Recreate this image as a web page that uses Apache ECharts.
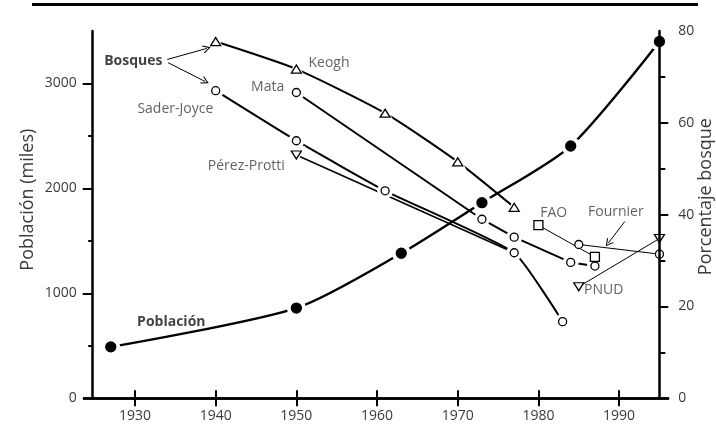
<!DOCTYPE html>
<html>
<head>
<meta charset="utf-8">
<script src="https://cdn.jsdelivr.net/npm/echarts@6/dist/echarts.min.js"></script>
<style>
html,body{margin:0;padding:0;background:#fff;}
#chart{width:716px;height:425px;}
</style>
</head>
<body>
<div id="chart"></div>
<script>
// ---- data ----
const xTickValues = [1930, 1940, 1950, 1960, 1970, 1980, 1990];
const popTickValues = [0, 1000, 2000, 3000];
const popMinorTicks = [500, 1500, 2500];
const pctTickValues = [0, 20, 40, 60, 80];
const pctMajorTicks = [20, 40, 60];
const pctMinorTicks = [10, 30, 50, 70];

const poblacion   = [[1927, 490], [1950, 860], [1963, 1382], [1973, 1864], [1984, 2404], [1995, 3400]];
const keogh       = [[1940, 77.7], [1950, 71.7], [1961, 62.1], [1970, 51.5], [1977, 41.6]];
const mata        = [[1950, 66.6], [1973, 39.0], [1977, 35.1], [1984, 29.6], [1987, 28.8]];
const saderJoyce  = [[1940, 67.0], [1950, 56.1], [1961, 45.2], [1977, 31.7], [1983, 16.7]];
const perezProtti = [[1950, 53.0], [1977, 31.7]];
const fao         = [[1980, 37.7], [1987, 30.8]];
const fournier    = [[1985, 33.5], [1995, 31.4]];
const pnud        = [[1985, 24.3], [1995, 34.8]];

// annotation texts anchored in data coordinates (year, percent)
const annotations = [
  {text: 'Bosques',      at: [1929.8, 73.5], bold: true,  align: 'center'},
  {text: 'Keogh',        at: [1951.5, 73.0], bold: false, align: 'left'},
  {text: 'Mata',         at: [1948.5, 67.8], bold: false, align: 'right'},
  {text: 'Sader-Joyce',  at: [1935.0, 62.9], bold: false, align: 'center'},
  {text: 'Pérez-Protti', at: [1943.8, 50.6], bold: false, align: 'center'},
  {text: 'FAO',          at: [1981.9, 40.4], bold: false, align: 'center'},
  {text: 'Fournier',     at: [1989.6, 40.6], bold: false, align: 'center'},
  {text: 'PNUD',         at: [1988.1, 23.6], bold: false, align: 'center'},
  {text: 'Población',    at: [1934.5, 16.6], bold: true,  align: 'center'}
];
const arrows = [
  [[1934.0, 73.8], [1938.9, 76.2]],
  [[1934.1, 73.1], [1938.7, 69.0]],
  [[1990.7, 38.5], [1988.65, 33.8]]
];

// ---- styling helpers ----
const FONT = 'Open Sans';
const TXT = '#3a3a3a';
const AXW = 2.5;
const yOff = -8.7;
const plain = v => String(v);

function lineSeries(name, data, yIdx, width, smooth) {
  return {
    type: 'line', name: name, data: data, yAxisIndex: yIdx,
    symbol: 'none', showSymbol: false, smooth: smooth,
    lineStyle: {color: '#000', width: width}, z: 1, silent: true
  };
}
function haloSeries(data, yIdx, size, symbol, rotate) {
  return {
    type: 'scatter', data: data, yAxisIndex: yIdx, symbol: symbol, symbolSize: size,
    symbolRotate: rotate || 0,
    itemStyle: {color: '#ffffff', opacity: 1},
    z: 5, silent: true
  };
}
function markerSeries(data, yIdx, size, symbol, filled, rotate) {
  return {
    type: 'scatter', data: data, yAxisIndex: yIdx, symbol: symbol, symbolSize: size,
    symbolRotate: rotate || 0,
    itemStyle: {color: filled ? '#000' : '#fff', borderColor: '#000', borderWidth: 1.3, opacity: 1},
    z: 8, silent: true
  };
}

const chart = echarts.init(document.getElementById('chart'), null, {renderer: 'canvas'});

const option = {
  animation: false,
  backgroundColor: '#fff',
  textStyle: {fontFamily: FONT},
  grid: {left: 84, right: 48, top: 31, bottom: 26.7, containLabel: false, outerBoundsMode: 'none'},
  graphic: [{
    type: 'line', shape: {x1: 32, y1: 4.5, x2: 698, y2: 4.5},
    style: {stroke: '#000', lineWidth: 3}, z: 100
  }],
  xAxis: [{
    type: 'value', min: 1923.68, max: 1996.06, position: 'bottom',
    axisLine: {show: true, lineStyle: {color: '#000', width: AXW}},
    axisTick: {show: true, customValues: xTickValues, length: 8, lineStyle: {color: '#000', width: 2}},
    axisLabel: {customValues: xTickValues, formatter: plain, color: TXT, fontFamily: FONT, fontSize: 14, margin: 11},
    splitLine: {show: false}
  }, {
    type: 'value', min: 1923.68, max: 1996.06, position: 'top',
    axisLine: {show: true, lineStyle: {color: '#000', width: AXW}},
    axisTick: {show: true, customValues: xTickValues, length: 8, lineStyle: {color: '#000', width: 2}},
    axisLabel: {show: false},
    splitLine: {show: false}
  }],
  yAxis: [{
    type: 'value', min: 0, max: 3500, position: 'left', offset: yOff, z: 10,
    name: 'Población (miles)', nameLocation: 'middle', nameGap: 56, nameRotate: 90, nameMoveOverlap: false,
    nameTextStyle: {color: TXT, fontFamily: FONT, fontSize: 18, padding: [0, 0, 0, 30]},
    axisLine: {show: true, lineStyle: {color: '#000', width: AXW}},
    axisTick: {show: true, customValues: popMinorTicks, length: 4.5, lineStyle: {color: '#000', width: 2}},
    axisLabel: {customValues: popTickValues, formatter: plain, color: TXT, fontFamily: FONT, fontSize: 14, margin: 16},
    splitLine: {show: false}
  }, {
    type: 'value', min: 0, max: 80, position: 'right', offset: yOff, z: 10,
    name: 'Porcentaje bosque', nameLocation: 'middle', nameGap: 38, nameRotate: 90, nameMoveOverlap: false,
    nameTextStyle: {color: TXT, fontFamily: FONT, fontSize: 18, padding: [0, 0, 0, 36]},
    axisLine: {show: true, lineStyle: {color: '#000', width: AXW}},
    axisTick: {show: true, customValues: pctMinorTicks, length: 6, lineStyle: {color: '#000', width: 2}},
    axisLabel: {customValues: pctTickValues, formatter: plain, color: TXT, fontFamily: FONT, fontSize: 14, margin: 19},
    splitLine: {show: false}
  }, {
    type: 'value', min: 0, max: 3500, position: 'left', offset: yOff, z: 10,
    axisLine: {show: false},
    axisTick: {show: true, customValues: popTickValues.slice(1), length: 10, lineStyle: {color: '#000', width: 2}},
    axisLabel: {show: false},
    splitLine: {show: false}
  }, {
    type: 'value', min: 0, max: 80, position: 'right', offset: yOff, z: 10,
    axisLine: {show: false},
    axisTick: {show: true, customValues: pctMajorTicks, length: 9, lineStyle: {color: '#000', width: 2}},
    axisLabel: {show: false},
    splitLine: {show: false}
  }],
  series: [
    // lines
    lineSeries('Población', poblacion, 0, 2.4, 0.25),
    lineSeries('Keogh', keogh, 1, 2, 0.2),
    lineSeries('Mata', mata, 1, 2, false),
    lineSeries('Sader-Joyce', saderJoyce, 1, 2, 0.15),
    lineSeries('Pérez-Protti', perezProtti, 1, 1.6, false),
    lineSeries('FAO', fao, 1, 1, false),
    lineSeries('Fournier', fournier, 1, 1, false),
    lineSeries('PNUD', pnud, 1, 1, false),
    // halos (white gaps round the markers)
    haloSeries(poblacion, 0, 19, 'circle'),
    haloSeries(keogh, 1, 18, 'triangle'),
    haloSeries(mata, 1, 16, 'circle'),
    haloSeries(saderJoyce, 1, 16, 'circle'),
    haloSeries(perezProtti.slice(0, 1), 1, 18, 'triangle', 180),
    // markers
    markerSeries(poblacion, 0, 10, 'circle', true),
    markerSeries(keogh, 1, [10, 8], 'triangle', false),
    markerSeries(mata, 1, 8, 'circle', false),
    markerSeries(saderJoyce, 1, 8, 'circle', false),
    markerSeries(perezProtti.slice(0, 1), 1, [10, 8], 'triangle', false, 180),
    markerSeries(fao, 1, 9, 'rect', false),
    markerSeries(fournier, 1, 8, 'circle', false),
    markerSeries(pnud, 1, [10, 8], 'triangle', false, 180),
    // arrows
    {
      type: 'lines', coordinateSystem: 'cartesian2d', xAxisIndex: 0, yAxisIndex: 1,
      symbol: ['none', 'path://M0,0 L5,9 L4,10 L0,2.6 L-4,10 L-5,9 Z'], symbolSize: [9, 8],
      lineStyle: {color: '#000', width: 1, opacity: 1},
      data: arrows.map(a => ({coords: a})), z: 9, silent: true
    },
    // text annotations
    {
      type: 'scatter', yAxisIndex: 1, symbolSize: 0, z: 9, silent: true,
      data: annotations.map(a => ({
        value: a.at, name: a.text,
        label: {
          show: true, position: [0, 0], formatter: a.text, align: a.align, verticalAlign: 'middle',
          fontFamily: FONT, fontSize: 14, color: a.bold ? '#111' : TXT,
          fontWeight: a.bold ? 'bold' : 'normal'
        }
      }))
    }
  ]
};
chart.setOption(option);
</script>
</body>
</html>
